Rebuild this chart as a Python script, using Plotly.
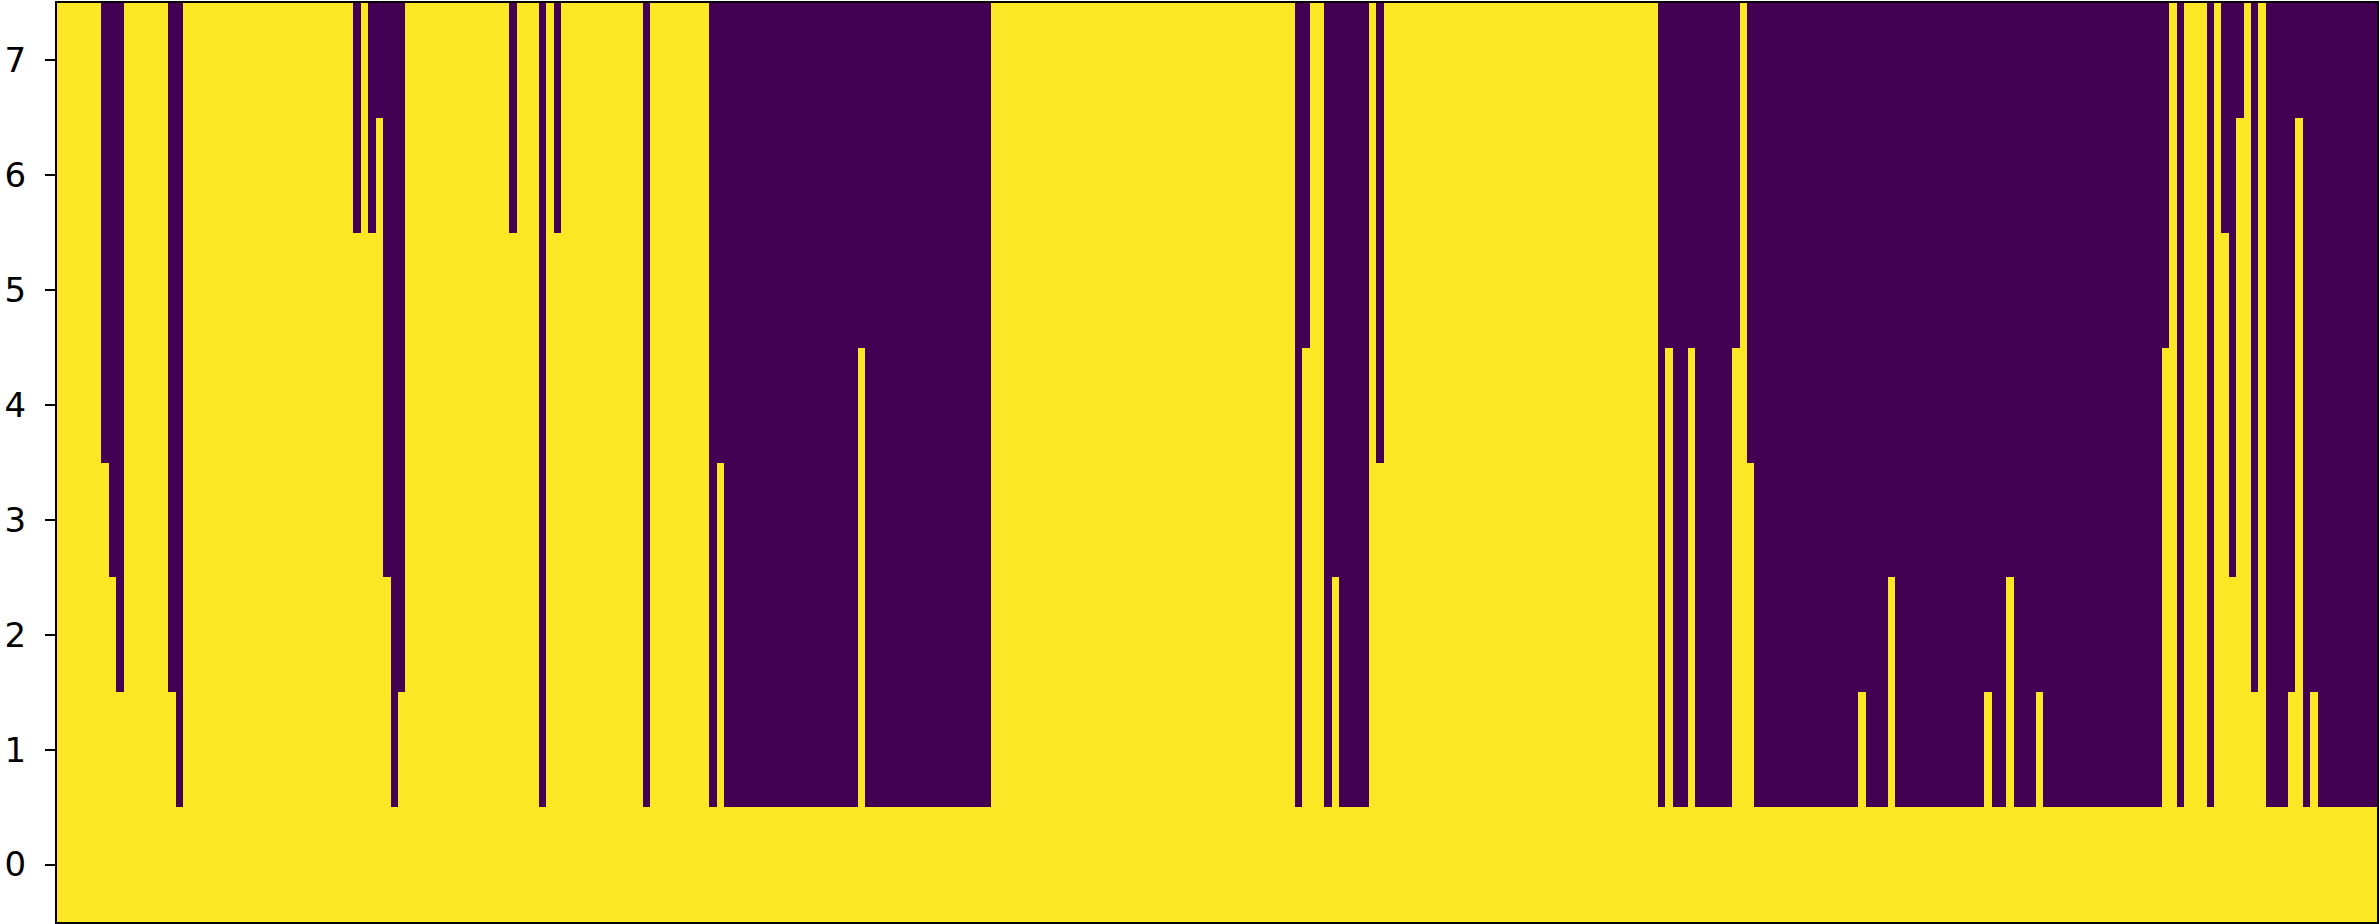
import plotly.graph_objects as go

# Number of yellow (value 1) rows counted from the bottom for each column (0..312)
yellow_rows = (
    [8] * 6 + [4, 3, 2] + [8] * 6 + [2, 1] + [8] * 23
    + [6, 8, 6, 7, 3, 1, 2] + [8] * 14
    + [6, 8, 8, 8, 1, 8, 6] + [8] * 11
    + [1] + [8] * 8 + [1, 4] + [1] * 18 + [5] + [1] * 17
    + [8] * 41
    + [1, 5, 8, 8, 1, 3, 1, 1, 1, 1, 8, 4] + [8] * 37
    + [1, 5, 1, 1, 5, 1, 1, 1, 1, 1, 5, 8, 4] + [1] * 14
    + [2, 1, 1, 1, 3] + [1] * 12
    + [2, 1, 1, 3] + [1] * 3 + [2] + [1] * 16
    + [5, 8, 1, 8, 8, 8, 1, 8, 6, 3, 7, 8, 2, 8]
    + [1, 1, 1, 2, 7, 1, 2] + [1] * 8
)
row_labels = [0, 1, 2, 3, 4, 5, 6, 7]
columns = list(range(len(yellow_rows)))

z = [[1 if r < k else 0 for k in yellow_rows] for r in row_labels]

fig = go.Figure(
    go.Heatmap(
        z=z,
        x=columns,
        y=row_labels,
        colorscale=[[0, "#440154"], [1, "#fde725"]],
        zmin=0,
        zmax=1,
        showscale=False,
        hoverinfo="skip",
    )
)

fig.update_layout(
    width=2380,
    height=924,
    margin=dict(l=57, r=2, t=1, b=2),
    paper_bgcolor="white",
    plot_bgcolor="white",
    font=dict(family="DejaVu Sans", size=34, color="black"),
)
fig.update_xaxes(
    range=[-0.5, len(yellow_rows) - 0.5],
    showticklabels=False,
    ticks="",
    showgrid=False,
    zeroline=False,
    showline=True,
    mirror=True,
    linecolor="black",
    linewidth=2,
)
fig.update_yaxes(
    range=[-0.5, 7.5],
    tickvals=row_labels,
    ticktext=[str(v) for v in row_labels],
    ticks="outside",
    ticklen=10,
    tickwidth=2,
    tickcolor="black",
    ticklabelstandoff=12,
    tickfont=dict(family="DejaVu Sans", size=34, color="black"),
    showgrid=False,
    zeroline=False,
    showline=True,
    mirror=True,
    linecolor="black",
    linewidth=2,
)

fig.write_html(
    "out.html",
    config={"displayModeBar": False},
    post_script="document.body.style.margin='0px';document.body.style.overflow='hidden';",
)
